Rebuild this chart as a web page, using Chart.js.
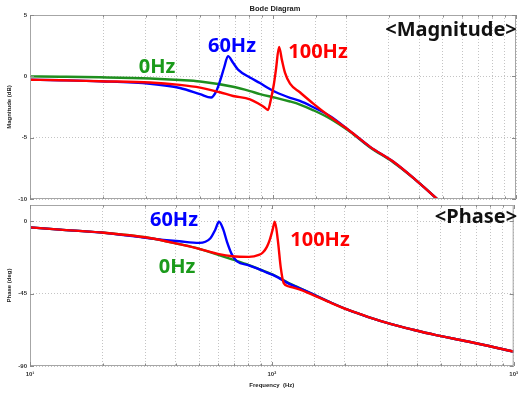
<!DOCTYPE html>
<html>
<head>
<meta charset="utf-8">
<script src="https://cdn.jsdelivr.net/npm/chart.js@4.4.1/dist/chart.umd.min.js"></script>
<style>
  html, body { margin: 0; padding: 0; background: #fff; }
  #wrap { position: relative; width: 523px; height: 393px; overflow: hidden; }
  #magCanvas { position: absolute; left: 0; top: 0; }
  #phaseCanvas { position: absolute; left: 0; top: 195px; }
</style>
</head>
<body>
<div id="wrap">
  <canvas id="magCanvas" width="523" height="210"></canvas>
  <canvas id="phaseCanvas" width="523" height="198"></canvas>
</div>
<script>
// --- data (frequency in Hz, magnitude in dB, phase in deg) ---
const freq0Hz = [10, 13.3, 19.4, 31.2, 41.4, 50.1, 68.5, 80.4, 88.4, 102.9, 117.5, 129, 146, 172, 207, 251, 312, 384, 473, 647, 1000];
const mag0Hz = [0.0, -0.03, -0.08, -0.18, -0.3, -0.42, -0.85, -1.2, -1.45, -1.75, -2.05, -2.3, -2.75, -3.45, -4.5, -5.8, -7.0, -8.4, -10.0, -12.6, -16.5];
const phase0Hz = [-3.9, -5.3, -7.0, -10.5, -14.3, -17.2, -23.8, -27.3, -29.8, -33.8, -38.5, -41.3, -45, -50, -55.2, -59.6, -64, -67.5, -70.7, -74.8, -81.1];

const freq60Hz = [10, 13.3, 19.4, 31.2, 41.4, 50.1, 55.6, 58.3, 60.5, 62.9, 65.3, 68.5, 71.8, 80.4, 88.4, 95.4, 102.9, 117.5, 129, 146, 172, 207, 251, 312, 384, 473, 647, 1000];
const mag60Hz = [-0.28, -0.32, -0.4, -0.6, -0.95, -1.45, -1.73, -1.25, -0.4, 0.7, 1.65, 1.1, 0.55, -0.1, -0.55, -0.95, -1.3, -1.75, -2.0, -2.5, -3.25, -4.45, -5.75, -6.95, -8.4, -10.0, -12.6, -16.5];
const phase60Hz = [-3.9, -5.3, -7.0, -10.7, -12.5, -13.5, -10.8, -5.5, -0.4, -5.0, -13, -21, -25, -27.5, -29.8, -32, -34, -38.8, -41.5, -45, -50, -55.2, -59.6, -64, -67.5, -70.7, -74.8, -81.1];

const freq100Hz = [10, 13.3, 19.4, 31.2, 41.4, 50.1, 60.5, 68.5, 80.4, 88.4, 91.8, 95.4, 98.1, 100.9, 102.9, 105.9, 108.9, 112.0, 117.5, 129, 146, 172, 207, 251, 312, 384, 473, 647, 1000];
const mag100Hz = [-0.28, -0.32, -0.4, -0.5, -0.7, -0.92, -1.3, -1.6, -1.87, -2.3, -2.5, -2.74, -1.85, -0.6, 0.6, 2.4, 1.3, 0.3, -0.6, -1.3, -2.2, -3.3, -4.45, -5.75, -6.95, -8.4, -10.0, -12.6, -16.5];
const phase100Hz = [-3.9, -5.3, -7.0, -10.5, -14.3, -17.2, -20.5, -21.8, -22.2, -21, -19.5, -16, -11.5, -5, -0.4, -12, -29, -38.5, -40.5, -42.3, -45.5, -50.2, -55.2, -59.6, -64, -67.5, -70.7, -74.8, -81.1];

const magTicks = [5, 0, -5, -10];
const phaseTicks = [0, -45, -90];
const decadeLabels = { 10: '10\u00B9', 100: '10\u00B2', 1000: '10\u00B3' };

const BLUE = '#0000ff', RED = '#ff0000', GREEN = '#1f8f1f';
const TICK_FONT = { family: 'Liberation Sans', size: 6, weight: 'bold' };

function pts(freq, vals) {
    return freq.map((f, i) => ({ x: f, y: vals[i] }));
}

function series(label, freq, vals, color) {
    return {
        label: label,
        data: pts(freq, vals),
        borderColor: color,
        borderWidth: 2.4,
        pointRadius: 0,
        cubicInterpolationMode: 'monotone',
        clip: 0
    };
}

// frame round the plot area, with small inside tick marks
const framePlugin = {
    id: 'frame',
    afterDatasetsDraw(chart) {
        const a = chart.chartArea;
        const ctx = chart.ctx;
        ctx.save();
        ctx.strokeStyle = '#a6a6a6';
        ctx.lineWidth = 1;
        ctx.strokeRect(a.left + 0.5, a.top + 0.5, a.right - a.left - 1, a.bottom - a.top - 1);
        ctx.strokeStyle = '#8a8a8a';
        ctx.beginPath();
        chart.scales.x.ticks.forEach(t => {
            const px = Math.round(chart.scales.x.getPixelForValue(t.value)) + 0.5;
            const len = decadeLabels[t.value] ? 4 : 2.5;
            ctx.moveTo(px, a.bottom); ctx.lineTo(px, a.bottom - len);
            ctx.moveTo(px, a.top); ctx.lineTo(px, a.top + len);
        });
        chart.scales.y.ticks.forEach(t => {
            const py = Math.round(chart.scales.y.getPixelForValue(t.value)) + 0.5;
            ctx.moveTo(a.left, py); ctx.lineTo(a.left + 4, py);
            ctx.moveTo(a.right, py); ctx.lineTo(a.right - 4, py);
        });
        ctx.stroke();
        ctx.restore();
    }
};

// free text: title and curve labels
const textPlugin = {
    id: 'textLabels',
    afterDraw(chart, args, opts) {
        const ctx = chart.ctx;
        ctx.save();
        ctx.textBaseline = 'middle';
        (opts.items || []).forEach(t => {
            ctx.font = t.font;
            ctx.fillStyle = t.color;
            ctx.textAlign = t.align || 'center';
            ctx.fillText(t.text, t.x, t.y);
        });
        ctx.restore();
    }
};

const LABEL_FONT = "bold 20px 'Noto Sans'";

function xScale(showLabels) {
    return {
        type: 'logarithmic',
        min: 10,
        max: 1000,
        grid: { color: '#c4c4c4', lineWidth: 1, drawTicks: false },
        border: { display: false, dash: [1, 2] },
        ticks: {
            display: showLabels,
            autoSkip: false,
            maxRotation: 0,
            padding: 5,
            color: '#333',
            font: TICK_FONT,
            callback: (v) => decadeLabels[v] || ''
        },
        title: {
            display: showLabels,
            text: 'Frequency  (Hz)',
            color: '#222',
            font: { family: 'Liberation Sans', size: 6, weight: 'bold' },
            padding: { top: 0, bottom: 4 }
        },
        afterFit: (scale) => { scale.height = showLabels ? 27 : 0; }
    };
}

function yScale(min, max, tickValues, titleText) {
    return {
        min: min,
        max: max,
        grid: { color: '#c4c4c4', lineWidth: 1, drawTicks: false },
        border: { display: false, dash: [1, 2] },
        afterBuildTicks: (scale) => { scale.ticks = tickValues.map(v => ({ value: v })); },
        ticks: { padding: 3, color: '#333', font: TICK_FONT },
        title: {
            display: true,
            text: titleText,
            color: '#222',
            font: { family: 'Liberation Sans', size: 6, weight: 'bold' },
            padding: { top: 6, bottom: 6 }
        },
        afterFit: (scale) => { scale.width = 30; }
    };
}

new Chart(document.getElementById('magCanvas'), {
    type: 'line',
    data: {
        datasets: [
            series('100Hz', freq100Hz, mag100Hz, RED),
            series('60Hz', freq60Hz, mag60Hz, BLUE),
            series('0Hz', freq0Hz, mag0Hz, GREEN)
        ]
    },
    options: {
        responsive: false,
        animation: false,
        layout: { padding: { top: 15, right: 7, bottom: 11, left: 0 } },
        scales: {
            x: xScale(false),
            y: yScale(-10, 5, magTicks, 'Magnitude (dB)')
        },
        plugins: {
            legend: { display: false },
            tooltip: { enabled: false },
            textLabels: {
                items: [
                    { text: 'Bode Diagram', x: 275, y: 9, color: '#222', font: "bold 7.5px 'Liberation Sans'" },
                    { text: '<Magnitude>', x: 451, y: 30, color: '#111', font: LABEL_FONT },
                    { text: '60Hz', x: 232, y: 46, color: BLUE, font: LABEL_FONT },
                    { text: '100Hz', x: 318, y: 52, color: RED, font: LABEL_FONT },
                    { text: '0Hz', x: 157, y: 67, color: '#1a9a1a', font: LABEL_FONT }
                ]
            }
        }
    },
    plugins: [framePlugin, textPlugin]
});

new Chart(document.getElementById('phaseCanvas'), {
    type: 'line',
    data: {
        datasets: [
            series('100Hz', freq100Hz, phase100Hz, RED),
            series('60Hz', freq60Hz, phase60Hz, BLUE),
            series('0Hz', freq0Hz, phase0Hz, GREEN)
        ]
    },
    options: {
        responsive: false,
        animation: false,
        layout: { padding: { top: 10, right: 7, bottom: 0, left: 0 } },
        scales: {
            x: xScale(true),
            y: yScale(-90, 10, phaseTicks, 'Phase (deg)')
        },
        plugins: {
            legend: { display: false },
            tooltip: { enabled: false },
            textLabels: {
                items: [
                    { text: '<Phase>', x: 476, y: 22, color: '#111', font: LABEL_FONT },
                    { text: '60Hz', x: 174, y: 25, color: BLUE, font: LABEL_FONT },
                    { text: '100Hz', x: 320, y: 45, color: RED, font: LABEL_FONT },
                    { text: '0Hz', x: 177, y: 72, color: '#1a9a1a', font: LABEL_FONT }
                ]
            }
        }
    },
    plugins: [framePlugin, textPlugin]
});
</script>
</body>
</html>
